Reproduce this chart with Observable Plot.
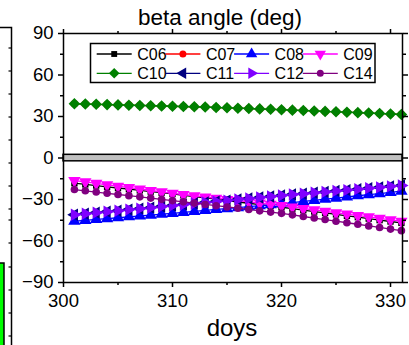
<!DOCTYPE html>
<html><head><meta charset="utf-8">
<script src="https://cdn.jsdelivr.net/npm/d3@7"></script>
<script src="https://cdn.jsdelivr.net/npm/@observablehq/plot@0.6"></script>
<style>body{margin:0;background:#fff}#chart{width:409px;height:345px}</style>
</head><body><div id="chart"></div>
<script>
const days = [301,302,303,304,305,306,307,308,309,310,311,312,313,314,315,316,317,318,319,320,321,322,323,324,325,326,327,328,329,330,331];
const C06 = [-18.2,-19.1,-19.9,-20.8,-21.7,-22.5,-23.4,-24.3,-25.1,-26.0,-27.0,-27.9,-28.9,-29.8,-30.8,-31.8,-32.7,-33.7,-34.6,-35.6,-36.6,-37.7,-38.7,-39.7,-40.8,-41.8,-42.8,-43.8,-44.9,-45.9,-46.9];
const C07 = [39.2,39.0,38.8,38.6,38.4,38.2,38.0,37.8,37.6,37.4,37.2,37.0,36.8,36.5,36.3,36.0,35.8,35.5,35.2,34.9,34.6,34.3,34.0,33.7,33.4,33.1,32.8,32.5,32.2,31.8,31.5];
const C08 = [-45.7,-45.1,-44.4,-43.8,-43.2,-42.5,-41.9,-41.3,-40.6,-40.0,-39.3,-38.6,-37.9,-37.2,-36.6,-35.9,-35.2,-34.5,-33.8,-33.1,-32.3,-31.4,-30.6,-29.8,-29.0,-28.1,-27.3,-26.5,-25.7,-24.8,-24.0];
const C09 = [-16.3,-17.3,-18.3,-19.4,-20.4,-21.4,-22.4,-23.5,-24.5,-25.5,-26.4,-27.3,-28.2,-29.1,-30.0,-30.8,-31.7,-32.6,-33.5,-34.4,-35.4,-36.5,-37.5,-38.5,-39.6,-40.6,-41.6,-42.6,-43.7,-44.7,-45.7];
const C10 = [39.2,39.0,38.8,38.6,38.4,38.2,38.0,37.8,37.6,37.4,37.2,37.0,36.8,36.5,36.3,36.0,35.8,35.5,35.2,34.9,34.6,34.3,34.0,33.7,33.4,33.1,32.8,32.5,32.2,31.8,31.5];
const C11 = [-41.0,-40.3,-39.5,-38.8,-38.1,-37.3,-36.6,-35.9,-35.1,-34.4,-33.7,-32.9,-32.2,-31.5,-30.8,-30.0,-29.3,-28.6,-27.8,-27.1,-26.4,-25.8,-25.1,-24.5,-23.8,-23.2,-22.5,-21.8,-21.2,-20.5,-19.9];
const C12 = [-41.0,-40.3,-39.5,-38.8,-38.1,-37.3,-36.6,-35.9,-35.1,-34.4,-33.7,-32.9,-32.2,-31.5,-30.8,-30.0,-29.3,-28.6,-27.8,-27.1,-26.4,-25.8,-25.1,-24.5,-23.8,-23.2,-22.5,-21.8,-21.2,-20.5,-19.9];
const C14 = [-22.8,-23.7,-24.6,-25.5,-26.4,-27.2,-28.1,-29.0,-29.9,-30.8,-31.7,-32.6,-33.6,-34.5,-35.4,-36.3,-37.2,-38.2,-39.1,-40.0,-41.1,-42.3,-43.4,-44.5,-45.7,-46.8,-47.9,-49.1,-50.2,-51.4,-52.5];
const seriesNames = ["C06","C07","C08","C09","C10","C11","C12","C14"];
const seriesValues = [C06,C07,C08,C09,C10,C11,C12,C14];
const colors = ["#000000","#ff0000","#0000ff","#ff00ff","#008000","#000080","#8000ff","#800080"];
const xMajor = [300,310,320,330];
const xMinor = [305,315,325];
const yMajor = [-90,-60,-30,0,30,60,90];
const yMinor = [-75,-45,-15,15,45,75];
const xDomain = [300,331.1];
const yDomain = [-90,90];
const zeroBand = [{lo:-2.4, hi:2.3}];
const titleText = "beta angle (deg)";
const xLabel = "doys";

const s3 = Math.sqrt(3);
function tri(dir){ return {draw(ctx,size){
  const a = Math.sqrt(size/(s3*3));
  const pts = {up:[[0,-2*a],[s3*a,a],[-s3*a,a]], down:[[0,2*a],[s3*a,-a],[-s3*a,-a]],
    left:[[-2*a,0],[a,s3*a],[a,-s3*a]], right:[[2*a,0],[-a,s3*a],[-a,-s3*a]]}[dir];
  ctx.moveTo(pts[0][0],pts[0][1]); ctx.lineTo(pts[1][0],pts[1][1]); ctx.lineTo(pts[2][0],pts[2][1]); ctx.closePath();
}};}
const symbols = [d3.symbolSquare, d3.symbolCircle, tri("up"), tri("down"), d3.symbolDiamond2, tri("left"), tri("right"), d3.symbolCircle];
const radii = [3.6,3.8,4.6,4.6,5.2,4.6,4.6,3.8];

const font = "Liberation Sans, Arial, sans-serif";
const marks = [
  Plot.rect(zeroBand,{x1:()=>xDomain[0], x2:()=>xDomain[1], y1:"lo", y2:"hi", fill:"#c0c0c0", stroke:"black", strokeWidth:1.5})
];
seriesNames.forEach((n,i)=>{
  const data = days.map((d,j)=>({day:d, v:seriesValues[i][j]}));
  marks.push(Plot.line(data,{x:"day",y:"v",stroke:colors[i],strokeWidth:1.3}));
  marks.push(Plot.dot(data,{x:"day",y:"v",symbol:symbols[i],fill:colors[i],stroke:"none",r:radii[i]}));
});
marks.push(
  Plot.frame({stroke:"black",strokeWidth:1.5}),
  Plot.axisX(xMajor,{anchor:"bottom",tickSize:5,tickPadding:6,fontSize:18.5,label:null,strokeWidth:1.5}),
  Plot.axisX(xMinor,{anchor:"bottom",tickSize:3,tickFormat:()=>"",label:null,strokeWidth:1.5}),
  Plot.axisX(xMajor,{anchor:"top",tickSize:5,tickFormat:()=>"",label:null,strokeWidth:1.5}),
  Plot.axisX(xMinor,{anchor:"top",tickSize:3,tickFormat:()=>"",label:null,strokeWidth:1.5}),
  Plot.axisY(yMajor,{anchor:"left",tickSize:5,tickPadding:5,fontSize:18.5,label:null,strokeWidth:1.5}),
  Plot.axisY(yMinor,{anchor:"left",tickSize:3,tickFormat:()=>"",label:null,strokeWidth:1.5}),
  Plot.axisY(yMajor,{anchor:"right",tickSize:5,tickFormat:()=>"",label:null,strokeWidth:1.5}),
  Plot.axisY(yMinor,{anchor:"right",tickSize:3,tickFormat:()=>"",label:null,strokeWidth:1.5})
);

const plot = Plot.plot({
  width:409, height:345, marginLeft:63, marginRight:7, marginTop:33, marginBottom:63,
  style:{fontFamily:font, background:"white", color:"black", overflow:"visible"},
  x:{domain:xDomain}, y:{domain:yDomain},
  marks
});
document.getElementById("chart").appendChild(plot);

const svg = d3.select(plot);
// neighbouring panel fragment on the left
const frag = svg.append("g").attr("stroke","black").attr("stroke-width",1.5);
frag.append("rect").attr("x",-2).attr("y",263).attr("width",6).attr("height",90).attr("fill","#00ff00");
frag.append("path").attr("fill","none").attr("d","M0,27.5H11.5V346");
[48,71,94,117,140,163,186,209,220,243,267,290,313,336].forEach(t=>{
  frag.append("line").attr("x1",8.5).attr("x2",11.5).attr("y1",t).attr("y2",t).attr("stroke-width",1.2);
});
// title and x label
svg.append("text").attr("x",220).attr("y",25).attr("text-anchor","middle").attr("font-size",22.5).attr("font-family",font).attr("fill","black").text(titleText);
svg.append("text").attr("x",232).attr("y",336).attr("text-anchor","middle").attr("font-size",24).attr("font-family",font).attr("fill","black").text(xLabel);
// legend
const lg = svg.append("g");
lg.append("rect").attr("x",90.5).attr("y",43.5).attr("width",284.5).attr("height",39).attr("fill","white").attr("stroke","black").attr("stroke-width",1.5);
seriesNames.forEach((n,i)=>{
  const col = i%4, row = Math.floor(i/4);
  const x0 = 96.7 + col*68.7, y0 = 54 + row*19.3;
  lg.append("line").attr("x1",x0).attr("x2",x0+35).attr("y1",y0).attr("y2",y0).attr("stroke",colors[i]).attr("stroke-width",1.3);
  lg.append("path").attr("transform",`translate(${x0+17.5},${y0})`).attr("d",d3.symbol(symbols[i], Math.PI*radii[i]*radii[i]*0.85)()).attr("fill",colors[i]);
  lg.append("text").attr("x",x0+40.5).attr("y",y0).attr("dy","0.36em").attr("text-anchor","start").attr("font-size",16).attr("font-family",font).attr("fill","black").text(n);
});
</script></body></html>
